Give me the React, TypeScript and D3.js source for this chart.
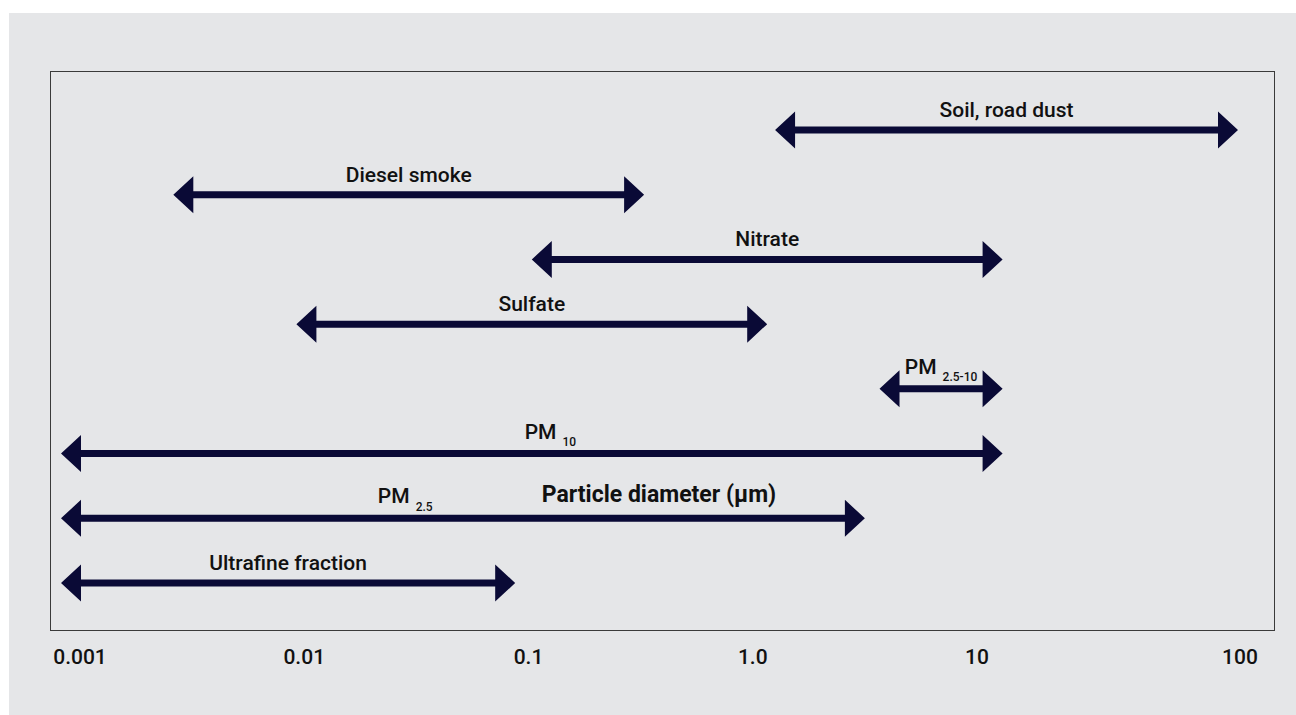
import React from "react";
import * as d3 from "d3";

// ---- data ----
const sources = [
  "Soil, road dust",
  "Diesel smoke",
  "Nitrate",
  "Sulfate",
  "PM2.5-10",
  "PM10",
  "PM2.5",
  "Ultrafine fraction",
];
const labelMain = [
  "Soil, road dust",
  "Diesel smoke",
  "Nitrate",
  "Sulfate",
  "PM",
  "PM",
  "PM",
  "Ultrafine fraction",
];
const labelSub = ["", "", "", "", "2.5-10", "10", "2.5", ""];
const lowerBound = [1.08, 0.003, 0.1, 0.01, 3, 0.001, 0.001, 0.001];
const upperBound = [100, 0.3, 10, 1, 10, 10, 2.6, 0.085];
// where each label sits (in µm); null = middle of the range
const labelAt: (number | null)[] = [null, null, null, null, null, 0.12, 0.029, null];
const tickLabels = ["0.001", "0.01", "0.1", "1.0", "10", "100"];
const axisTitle = "Particle diameter (µm)";

const W = 1296;
const H = 715;
const FONT = "Roboto, 'Noto Sans', sans-serif";
const NAVY = "#0a0a36";

export default function App() {
  const frame = { left: 50, right: 1274, top: 71, bottom: 630 };
  const x = d3.scaleLog().domain([0.001, 100]).range([61, 1238]);
  const y = d3.scalePoint<string>().domain(sources).range([130, 583]);
  const tickX = d3.scalePoint<string>().domain(tickLabels.slice(0, 5)).range([80, 977]);

  const headLen = 20;
  const headHalf = 18.5;
  const thick = 7;

  const arrowPath = (x1: number, x2: number, cy: number) => {
    const p = d3.path();
    p.moveTo(x1, cy);
    p.lineTo(x1 + headLen, cy - headHalf);
    p.lineTo(x1 + headLen, cy - thick / 2);
    p.lineTo(x2 - headLen, cy - thick / 2);
    p.lineTo(x2 - headLen, cy - headHalf);
    p.lineTo(x2, cy);
    p.lineTo(x2 - headLen, cy + headHalf);
    p.lineTo(x2 - headLen, cy + thick / 2);
    p.lineTo(x1 + headLen, cy + thick / 2);
    p.lineTo(x1 + headLen, cy + headHalf);
    p.closePath();
    return p.toString();
  };

  return (
    <svg
      width={W}
      height={H}
      style={{ position: "absolute", left: 0, top: 0, display: "block" }}
      fontFamily={FONT}
    >
      <rect x={9} y={13} width={W - 9} height={H - 13} fill="#e5e6e8" />
      <rect
        x={frame.left + 0.5}
        y={frame.top + 0.5}
        width={frame.right - frame.left}
        height={frame.bottom - frame.top}
        fill="none"
        stroke="#3a3a3a"
        strokeWidth={1}
      />
      {sources.map((s, i) => {
        const x1 = x(lowerBound[i]);
        const x2 = x(upperBound[i]);
        const cy = y(s)!;
        const la = labelAt[i];
        const lx = la == null ? (x1 + x2) / 2 : x(la);
        const sub = labelSub[i];
        return (
          <g key={s}>
            <path d={arrowPath(x1, x2, cy)} fill={NAVY} />
            <text
              x={lx}
              y={cy - (sub ? 15 : 13)}
              textAnchor="middle"
              fontSize={21}
              fontWeight={500}
              fill="#111"
            >
              {labelMain[i]}
              {sub && (
                <tspan fontSize={12} dx={6} dy={7.5}>
                  {sub}
                </tspan>
              )}
            </text>
          </g>
        );
      })}
      <text
        x={(frame.left + frame.right) / 2 - 3}
        y={502}
        textAnchor="middle"
        fontSize={23}
        fontWeight={700}
        fill="#111"
      >
        {axisTitle}
      </text>
      {tickLabels.map((t, i) => (
        <text
          key={t}
          x={i < 5 ? tickX(t)! : frame.right - 34}
          y={664}
          textAnchor="middle"
          fontSize={21}
          fontWeight={500}
          fill="#111"
        >
          {t}
        </text>
      ))}
    </svg>
  );
}
